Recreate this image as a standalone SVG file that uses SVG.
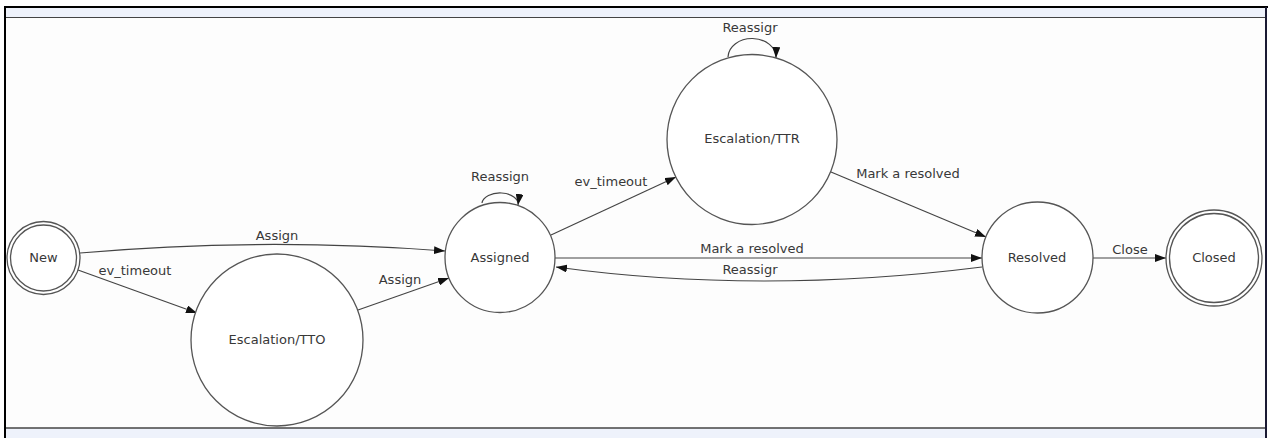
<svg xmlns="http://www.w3.org/2000/svg" width="1272" height="438" viewBox="0 0 1272 438">
  <style>
    .state { fill: #ffffff; stroke: #555555; stroke-width: 1.3; }
    .edge { fill: none; stroke: #444444; stroke-width: 1.2; }
    .label { font-family: "DejaVu Sans", Verdana, sans-serif; font-size: 13px; fill: #383838; text-anchor: middle; }
  </style>
  <defs>
    <marker id="arrow" markerUnits="userSpaceOnUse" markerWidth="11" markerHeight="8" refX="11" refY="4" orient="auto">
      <path d="M0,0 L11,4 L0,8 z" fill="#111111"/>
    </marker>
  </defs>

  <!-- panel frame -->
  <rect x="0" y="0" width="1272" height="438" fill="#ffffff"/>
  <rect x="5" y="8" width="1261" height="420" fill="#fdfdfd"/>
  <rect x="5" y="8" width="1261" height="9" fill="#eef2fb"/>
  <rect x="5" y="428" width="1261" height="10" fill="#eef2fb"/>
  <line x1="4" y1="7" x2="1268" y2="7" stroke="#000000" stroke-width="2"/>
  <line x1="5" y1="17.5" x2="1266" y2="17.5" stroke="#444444" stroke-width="1"/>
  <line x1="5" y1="428" x2="1266" y2="428" stroke="#444444" stroke-width="1.5"/>
  <line x1="5" y1="7" x2="5" y2="438" stroke="#000000" stroke-width="2"/>
  <line x1="1266" y1="7" x2="1266" y2="438" stroke="#1a1a33" stroke-width="2"/>

  <!-- transitions -->
  <g id="connectors">
    <path class="edge" d="M80,253 Q262,237 445,251" marker-end="url(#arrow)"/>
    <text class="label" x="277" y="240">Assign</text>

    <path class="edge" d="M78,270 L197,313" marker-end="url(#arrow)"/>
    <text class="label" x="135" y="275">ev_timeout</text>

    <path class="edge" d="M358,310 L449,278" marker-end="url(#arrow)"/>
    <text class="label" x="400" y="284">Assign</text>

    <path class="edge" d="M482,203 A18,11 0 1 1 518,205" marker-end="url(#arrow)"/>
    <text class="label" x="500" y="181">Reassign</text>

    <path class="edge" d="M551,235 L676,177" marker-end="url(#arrow)"/>
    <text class="label" x="611" y="186">ev_timeout</text>

    <path class="edge" d="M728,57 A24,19 0 1 1 776,58" marker-end="url(#arrow)"/>
    <text class="label" x="750" y="32">Reassigr</text>

    <path class="edge" d="M555,258 L982,258" marker-end="url(#arrow)"/>
    <text class="label" x="752" y="253">Mark a resolved</text>

    <path class="edge" d="M982,267 Q760,295 556,267" marker-end="url(#arrow)"/>
    <text class="label" x="750" y="274">Reassigr</text>

    <path class="edge" d="M831,172 L986,237" marker-end="url(#arrow)"/>
    <text class="label" x="908" y="178">Mark a resolved</text>

    <path class="edge" d="M1093,258 L1166,258" marker-end="url(#arrow)"/>
    <text class="label" x="1130" y="254">Close</text>
  </g>

  <!-- states -->
  <g id="new">
    <circle class="state" cx="43.5" cy="258" r="36.5"/>
    <circle class="state" cx="43.5" cy="258" r="33"/>
    <text class="label" x="43.5" y="262">New</text>
  </g>
  <g id="escalation-tto">
    <circle class="state" cx="277" cy="340" r="86"/>
    <text class="label" x="277" y="344">Escalation/TTO</text>
  </g>
  <g id="assigned">
    <circle class="state" cx="500" cy="257.5" r="55"/>
    <text class="label" x="500" y="262">Assigned</text>
  </g>
  <g id="escalation-ttr">
    <circle class="state" cx="752" cy="139.5" r="85"/>
    <text class="label" x="752" y="143">Escalation/TTR</text>
  </g>
  <g id="resolved">
    <circle class="state" cx="1037.5" cy="257.5" r="55.5"/>
    <text class="label" x="1037" y="262">Resolved</text>
  </g>
  <g id="closed">
    <circle class="state" cx="1214" cy="258" r="48"/>
    <circle class="state" cx="1214" cy="258" r="44.5"/>
    <text class="label" x="1214" y="262">Closed</text>
  </g>
</svg>
